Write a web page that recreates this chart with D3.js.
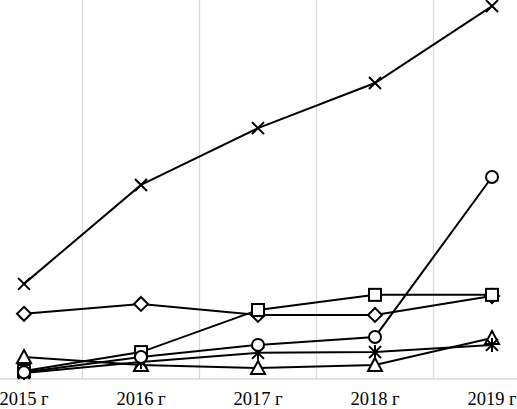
<!DOCTYPE html>
<html>
<head>
<meta charset="utf-8">
<script src="https://cdn.jsdelivr.net/npm/d3@7"></script>
<style>
  html, body { margin: 0; padding: 0; background: #fff; overflow: hidden; }
  svg { display: block; }
</style>
</head>
<body>
<svg id="chart" width="517" height="409"></svg>
<script>
const categories = ["2015 г", "2016 г", "2017 г", "2018 г", "2019 г"];
const seriesCross    = [25.1, 51.2, 66.2, 78.1, 98.4];
const seriesCircle   = [1.8, 5.8, 9.0, 11.1, 53.3];
const seriesSquare   = [2.1, 7.1, 18.2, 22.2, 22.2];
const seriesDiamond  = [17.2, 19.8, 16.9, 16.9, 21.9];
const seriesTriangle = [5.8, 3.7, 2.9, 3.7, 10.8];
const seriesStar     = [1.6, 4.5, 6.9, 7.1, 9.0];

const series = [
  { name: "diamond",  values: seriesDiamond },
  { name: "square",   values: seriesSquare },
  { name: "triangle", values: seriesTriangle },
  { name: "star",     values: seriesStar },
  { name: "cross",    values: seriesCross },
  { name: "circle",   values: seriesCircle }
];

const W = 517, H = 409;
const svg = d3.select("#chart");
const baseY = 379;

const x = d3.scaleBand().domain(categories).range([-34.5, 550.5]).padding(0);
const y = d3.scaleLinear().domain([0, 100]).range([baseY, 0]);
const cx = d => x(d) + x.bandwidth() / 2;

// vertical gridlines at band boundaries
const bounds = categories.slice(1).map(c => x(c));
svg.append("g").selectAll("line").data(bounds).join("line")
  .attr("x1", d => d).attr("x2", d => d)
  .attr("y1", 0).attr("y2", baseY)
  .attr("stroke", "#d9d9d9").attr("stroke-width", 1.3);

// x axis
const xAxis = svg.append("g").attr("transform", `translate(0,${baseY})`)
  .call(d3.axisBottom(x).tickSize(0).tickPadding(0));
xAxis.select(".domain").attr("stroke", "#d9d9d9").attr("stroke-width", 1.3)
  .attr("d", `M0,0H${W}`);
xAxis.selectAll("text")
  .attr("font-family", "'Liberation Serif', 'Times New Roman', serif")
  .attr("font-size", 18.5).attr("fill", "#000")
  .attr("dy", 0).attr("y", 26);

const line = d3.line().x((d, i) => cx(categories[i])).y(d => y(d));

// lines
const gLines = svg.append("g");
series.forEach(s => {
  gLines.append("path").datum(s.values)
    .attr("d", line).attr("fill", "none")
    .attr("stroke", "#000").attr("stroke-width", 2);
});

// markers
const gMarks = svg.append("g");
function drawMarker(g, type, px, py) {
  const st = { stroke: "#000", "stroke-width": 2 };
  let el;
  if (type === "circle") {
    el = g.append("circle").attr("cx", px).attr("cy", py).attr("r", 6).attr("fill", "#fff");
  } else if (type === "square") {
    el = g.append("rect").attr("x", px - 6).attr("y", py - 6).attr("width", 12).attr("height", 12).attr("fill", "#fff");
  } else if (type === "diamond") {
    el = g.append("path").attr("d", `M${px},${py-7}L${px+7},${py}L${px},${py+7}L${px-7},${py}Z`).attr("fill", "#fff");
  } else if (type === "triangle") {
    el = g.append("path").attr("d", `M${px},${py-7}L${px+7},${py+6}L${px-7},${py+6}Z`).attr("fill", "#fff");
  } else if (type === "cross") {
    el = g.append("path").attr("d", `M${px-6},${py-6}L${px+6},${py+6}M${px+6},${py-6}L${px-6},${py+6}`).attr("fill", "none");
  } else if (type === "star") {
    el = g.append("path").attr("d", `M${px-6},${py-6}L${px+6},${py+6}M${px+6},${py-6}L${px-6},${py+6}M${px},${py-7}L${px},${py+7}`).attr("fill", "none");
  }
  Object.entries(st).forEach(([k, v]) => el.attr(k, v));
}
series.forEach(s => {
  s.values.forEach((v, i) => drawMarker(gMarks, s.name, cx(categories[i]), y(v)));
});
</script>
</body>
</html>
